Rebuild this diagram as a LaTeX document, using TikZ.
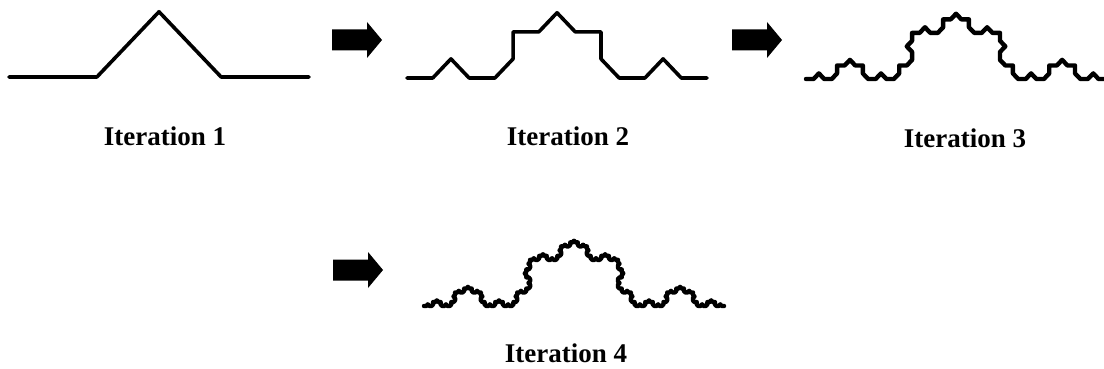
\documentclass[tikz,border=0pt]{standalone}
\usepackage{fontspec}
\setmainfont{Liberation Serif}
\usetikzlibrary{lindenmayersystems}
\pgfdeclarelindenmayersystem{bump curve}{\rule{F -> F+F--F+F}}

\begin{document}
\begin{tikzpicture}[x=1pt, y=-1pt,
  every node/.style = {font=\bfseries\fontsize{27}{30}\selectfont, anchor=base},
  curve/.style = {line width=3.6pt, line join=round, line cap=round, yscale=1.05},
  blockarrow/.pic = {\fill (0,-10.5) -- (35,-10.5) -- (35,-18) -- (50,0)
    -- (35,18) -- (35,10.5) -- (0,10.5) -- cycle;}]
  \useasboundingbox (0,0) rectangle (1104,369);
  % the four iterations
  \draw[shift={(9,77)}, curve,
    lindenmayer system={bump curve, axiom=F, order=1, step=87.87pt, angle=45}]
    lindenmayer system;
  \draw[shift={(407,78)}, curve,
    lindenmayer system={bump curve, axiom=F, order=2, step=25.74pt, angle=45}]
    lindenmayer system;
  \draw[shift={(806,79)}, curve, line width=4.4pt,
    lindenmayer system={bump curve, axiom=F, order=3, step=7.54pt, angle=45}]
    lindenmayer system;
  \draw[shift={(424,306)}, curve, line width=4.4pt,
    lindenmayer system={bump curve, axiom=F, order=4, step=2.208pt, angle=45}]
    lindenmayer system;
  % block arrows
  \pic at (332,40) {blockarrow};
  \pic at (732,40) {blockarrow};
  \pic at (333,270) {blockarrow};
  % labels
  \node (lab1) at (165,145) {Iteration 1};
  \node (lab2) at (568,145) {Iteration 2};
  \node (lab3) at (965,147) {Iteration 3};
  \node (lab4) at (566,362) {Iteration 4};
\end{tikzpicture}
\end{document}
